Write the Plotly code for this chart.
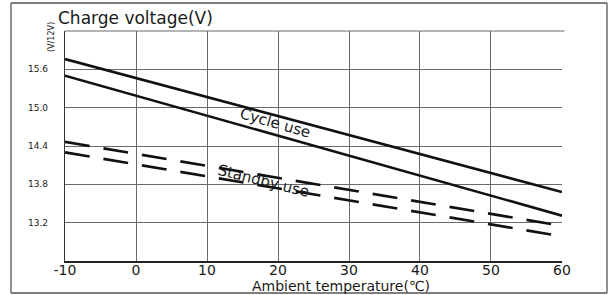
import plotly.graph_objects as go

# ---- data ----
temps = [-10, 60]
cycle_upper = [15.76, 13.68]
cycle_lower = [15.50, 13.31]
standby_upper = [14.465, 13.15]
standby_lower = [14.30, 12.985]

x_ticks = [-10, 0, 10, 20, 30, 40, 50, 60]
x_ticklabels = ["-10", "0", "10", "20", "30", "40", "50", "60"]
y_ticks = [12.6, 13.2, 13.8, 14.4, 15.0, 15.6, 16.2]
y_ticklabels = ["", "13.2", "13.8", "14.4", "15.0", "15.6", ""]

W, H = 614, 295
L, R, T, B = 65, 52, 31, 34
PW, PH = W - L - R, H - T - B

def px_x(p):
    return (p - L) / PW

def px_y(p):
    return (H - B - p) / PH

FONT = "DejaVu Sans"
INK = "#1a1a1a"
GRID = "#6a6a6a"

fig = go.Figure()
solid = dict(color="#111111", width=2.6)
dashed = dict(color="#111111", width=2.6, dash="25px,14px")
fig.add_trace(go.Scatter(x=temps, y=cycle_upper, mode="lines", line=solid, showlegend=False))
fig.add_trace(go.Scatter(x=temps, y=cycle_lower, mode="lines", line=solid, showlegend=False))
fig.add_trace(go.Scatter(x=temps, y=standby_upper, mode="lines", line=dashed, showlegend=False))
fig.add_trace(go.Scatter(x=temps, y=standby_lower, mode="lines", line=dashed, showlegend=False))

border = dict(color="#555555", width=1.3)
fig.update_layout(
    width=W, height=H,
    margin=dict(l=L, r=R, t=T, b=B),
    paper_bgcolor="white", plot_bgcolor="white",
    font=dict(family=FONT, color=INK),
    xaxis=dict(
        range=[-10, 60.001], tickvals=x_ticks, ticktext=x_ticklabels,
        showgrid=True, gridcolor=GRID, gridwidth=1,
        showline=True, linecolor="#222222", linewidth=1.5,
        zeroline=False, ticks="", tickfont=dict(size=14, color=INK),
        ticklabelstandoff=-5, fixedrange=True, automargin=False,
    ),
    yaxis=dict(
        range=[12.6, 16.2], tickvals=y_ticks, ticktext=y_ticklabels,
        showgrid=True, gridcolor=GRID, gridwidth=1,
        showline=True, linecolor="#333333", linewidth=1.3,
        zeroline=False, ticks="", tickfont=dict(size=9, color=INK),
        ticklabelstandoff=14, fixedrange=True, automargin=False,
    ),
    shapes=[
        # top edge of the grid (gridline at 16.2)
        dict(type="line", xref="paper", yref="paper", x0=0, x1=1.005, y0=1, y1=1,
             line=dict(color=GRID, width=1), layer="above"),
        # outer frame
        dict(type="line", xref="paper", yref="paper", x0=px_x(11), x1=px_x(607),
             y0=px_y(3), y1=px_y(3), line=border, layer="above"),
        dict(type="line", xref="paper", yref="paper", x0=px_x(11), x1=px_x(607),
             y0=px_y(293), y1=px_y(293), line=border, layer="above"),
        dict(type="line", xref="paper", yref="paper", x0=px_x(11), x1=px_x(11),
             y0=px_y(3), y1=px_y(293), line=border, layer="above"),
        dict(type="line", xref="paper", yref="paper", x0=px_x(607), x1=px_x(607),
             y0=px_y(3), y1=px_y(293), line=border, layer="above"),
    ],
    annotations=[
        dict(text="Charge voltage(V)", xref="paper", yref="paper",
             x=px_x(56), y=px_y(18), xanchor="left", yanchor="middle",
             showarrow=False, font=dict(size=17, color=INK)),
        dict(text="(V/12V)", xref="paper", yref="paper",
             x=px_x(52), y=px_y(37), xanchor="center", yanchor="middle",
             textangle=-90, showarrow=False, font=dict(size=8, color=INK)),
        dict(text="Ambient temperature(℃)", xref="paper", yref="paper",
             x=px_x(341), y=px_y(285.5), xanchor="center", yanchor="middle",
             showarrow=False, font=dict(size=14, color=INK)),
        dict(text="Cycle use", xref="x", yref="y", x=19.6, y=14.76,
             textangle=16, showarrow=False, font=dict(size=15, color=INK)),
        dict(text="Standby use", xref="x", yref="y", x=18.0, y=13.86,
             textangle=14, showarrow=False, font=dict(size=15, color=INK)),
    ],
)

fig.write_html("out.html", config={"displayModeBar": False},
               post_script="document.body.style.margin='0';")
